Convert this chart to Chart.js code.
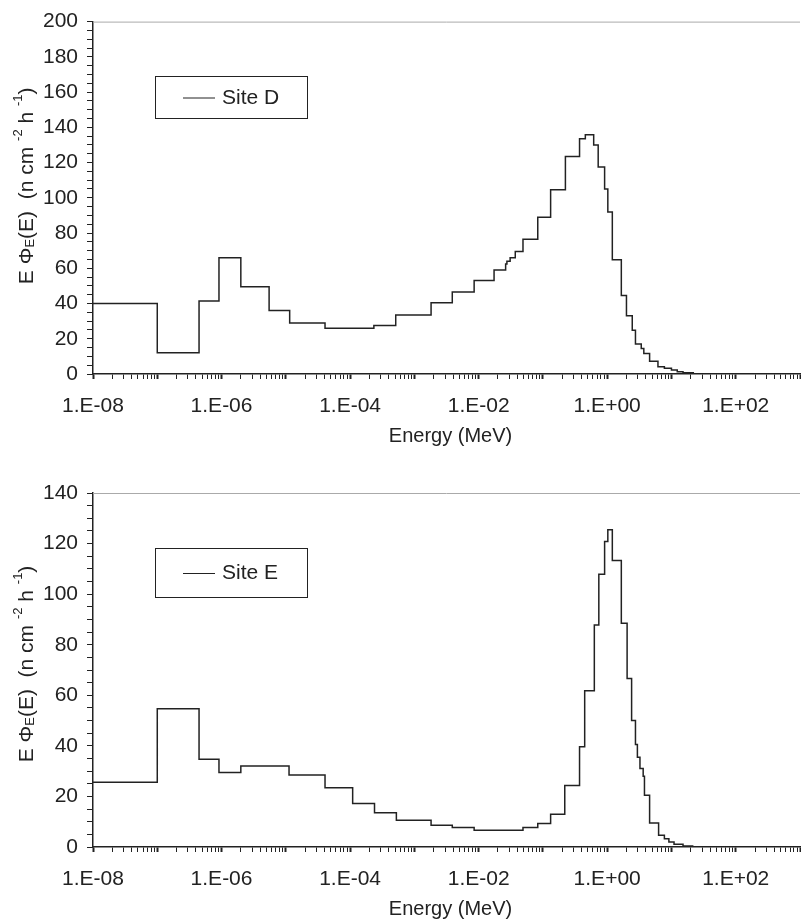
<!DOCTYPE html>
<html>
<head>
<meta charset="utf-8">
<script src="https://cdn.jsdelivr.net/npm/chart.js@4"></script>
<style>
  body { margin: 0; background: #fff; }
  .box { position: absolute; left: 0; width: 801px; }
</style>
</head>
<body>
<div class="box" style="top:0;height:460px"><canvas id="chartD"></canvas></div>
<div class="box" style="top:460px;height:461px"><canvas id="chartE"></canvas></div>
<script>
// bin edges, as log10(E / MeV)
const edgeExpD = [-8, -7, -6.35, -6.04, -5.70, -5.26, -4.94, -4.39, -3.63, -3.29,
  -2.74, -2.41, -2.07, -1.76, -1.58, -1.56, -1.51, -1.43, -1.31, -1.08,
  -0.88, -0.65, -0.43, -0.34, -0.21, -0.14, -0.04, 0.01, 0.08, 0.22,
  0.30, 0.39, 0.44, 0.53, 0.57, 0.66, 0.79, 0.89, 1.0, 1.09,
  1.18, 1.34, 3]
const valuesD = [40, 12, 41.5, 66, 49.5, 36, 29, 26, 27.5, 33.5,
  40.5, 46.5, 53, 59, 62.5, 64, 66, 69.5, 76.5, 89,
  104.5, 123.5, 133.5, 135.8, 130, 117.5, 105, 92, 64.8, 44.6,
  33, 24.9, 17, 14.5, 11.7, 7.3, 4.1, 3.2, 2.3, 1.3,
  0.7, 0]

const edgeExpE = [-8, -7, -6.35, -6.04, -5.70, -4.95, -4.39, -3.96, -3.62, -3.28,
  -2.74, -2.41, -2.07, -1.31, -1.08, -0.88, -0.66, -0.43, -0.35, -0.2,
  -0.13, -0.04, 0.01, 0.08, 0.22, 0.31, 0.38, 0.44, 0.47, 0.51,
  0.56, 0.58, 0.66, 0.80, 0.89, 0.96, 1.04, 1.18, 1.33, 3]
const valuesE = [25.6, 54.7, 34.7, 29.5, 32, 28.5, 23.4, 17.2, 13.5, 10.6,
  8.6, 7.7, 6.6, 7.7, 9.3, 13, 24.3, 39.6, 61.8, 87.8,
  107.9, 120.8, 125.5, 113.3, 88.5, 66.6, 50, 40.5, 35.5, 31,
  28, 20.5, 9.5, 4.6, 3.3, 2, 1.1, 0.4, 0]

const xLabelExps = [-8, -6, -4, -2, 0, 2]
const font = "'Liberation Sans', Arial, sans-serif"
const ink = "#222"

// point i+1 sits at the upper edge of bin i
function stepPoints(exps, vals) {
  const pts = [{ x: Math.pow(10, exps[0]), y: vals[0] }]
  vals.forEach((v, i) => pts.push({ x: Math.pow(10, exps[i + 1]), y: v }))
  return pts
}

// Excel style decorations: top border, legend box, y title, x labels
const decor = {
  id: "decor",
  afterDraw(chart, args, o) {
    const { ctx, chartArea: a } = chart
    const xs = chart.scales.x
    ctx.save()
    ctx.strokeStyle = "#aaa"
    ctx.lineWidth = 1
    ctx.beginPath(); ctx.moveTo(a.left, a.top + 0.5); ctx.lineTo(a.right, a.top + 0.5); ctx.stroke()

    // legend
    ctx.strokeStyle = ink
    ctx.strokeRect(155.5, o.legendY + 0.5, 152, o.legendH)
    ctx.beginPath(); ctx.moveTo(183, o.legendY + o.legendH / 2 + 1); ctx.lineTo(215, o.legendY + o.legendH / 2 + 1); ctx.stroke()
    ctx.fillStyle = ink
    ctx.font = "21px " + font
    ctx.textBaseline = "middle"
    ctx.fillText(o.name, 222, o.legendY + o.legendH / 2 + 1)

    // x tick labels
    ctx.textAlign = "center"
    ctx.font = "21px " + font
    xLabelExps.forEach(e => {
      const s = "1.E" + (e < 0 ? "-" : "+") + String(Math.abs(e)).padStart(2, "0")
      ctx.fillText(s, xs.getPixelForValue(Math.pow(10, e)), a.bottom + 32)
    })
    ctx.font = "20px " + font
    ctx.fillText("Energy (MeV)", (a.left + a.right) / 2 + 4, a.bottom + 62)

    // y title, rotated
    ctx.translate(27, (a.top + a.bottom) / 2 + o.titleShift)
    ctx.rotate(-Math.PI / 2)
    ctx.textAlign = "left"
    const parts = [
      ["E \u03A6", 21, 0], ["E", 13, 3], ["(E)  (n cm ", 21, 0], ["-2", 13, -9],
      [" h ", 21, 0], ["-1", 13, -9], [")", 21, 0]
    ]
    let w = 0
    parts.forEach(p => { ctx.font = p[1] + "px " + font; w += ctx.measureText(p[0]).width })
    let x = -w / 2
    parts.forEach(p => {
      ctx.font = p[1] + "px " + font
      ctx.fillText(p[0], x, p[2])
      x += ctx.measureText(p[0]).width
    })
    ctx.restore()
  }
}

function makeChart(id, exps, vals, yMax, top, axisH, name, legendY, legendH, titleShift) {
  const minorX = []
  for (let e = -8; e < 3; e++) for (let m = 1; m < 10; m++) minorX.push(m * Math.pow(10, e))
  minorX.push(1000)
  const isMajor = v => Math.abs(Math.log10(v) - Math.round(Math.log10(v))) < 1e-6
  return new Chart(document.getElementById(id), {
    type: "line",
    data: {
      datasets: [{
        label: name,
        data: stepPoints(exps, vals),
        stepped: "after",
        borderColor: ink,
        borderWidth: 1.5,
        pointRadius: 0,
        fill: false,
      }],
    },
    options: {
      responsive: true,
      maintainAspectRatio: false,
      animation: false,
      layout: { padding: { top: top, right: 1, left: 0, bottom: 0 } },
      plugins: {
        legend: { display: false },
        tooltip: { enabled: false },
        decor: { name: name, legendY: legendY, legendH: legendH, titleShift: titleShift },
      },
      scales: {
        x: {
          type: "logarithmic",
          min: 1e-8,
          max: 1e3,
          afterBuildTicks: s => { s.ticks = minorX.map(v => ({ value: v })) },
          afterFit: s => { s.height = axisH },
          ticks: { display: false },
          grid: {
            drawOnChartArea: false,
            tickLength: 5,
            color: ink,
            tickWidth: c => (isMajor(c.tick.value) ? 2 : 1),
          },
          border: { color: ink, width: 1.5 },
        },
        y: {
          min: 0,
          max: yMax,
          afterBuildTicks: s => {
            const t = []
            for (let v = 0; v <= yMax; v += 5) t.push({ value: v })
            s.ticks = t
          },
          afterFit: s => { s.width = 93 },
          ticks: {
            color: ink,
            font: { family: font, size: 21 },
            padding: 9,
            autoSkip: false,
            callback: v => (v % 20 === 0 ? v : ""),
          },
          grid: { drawOnChartArea: false, tickLength: 6, color: ink },
          border: { color: ink, width: 1.5 },
        },
      },
    },
    plugins: [decor],
  })
}

makeChart("chartD", edgeExpD, valuesD, 200, 20, 86, "Site D", 76, 42, -12)
makeChart("chartE", edgeExpE, valuesE, 140, 33, 74, "Site E", 88, 49, -6)
</script>
</body>
</html>
